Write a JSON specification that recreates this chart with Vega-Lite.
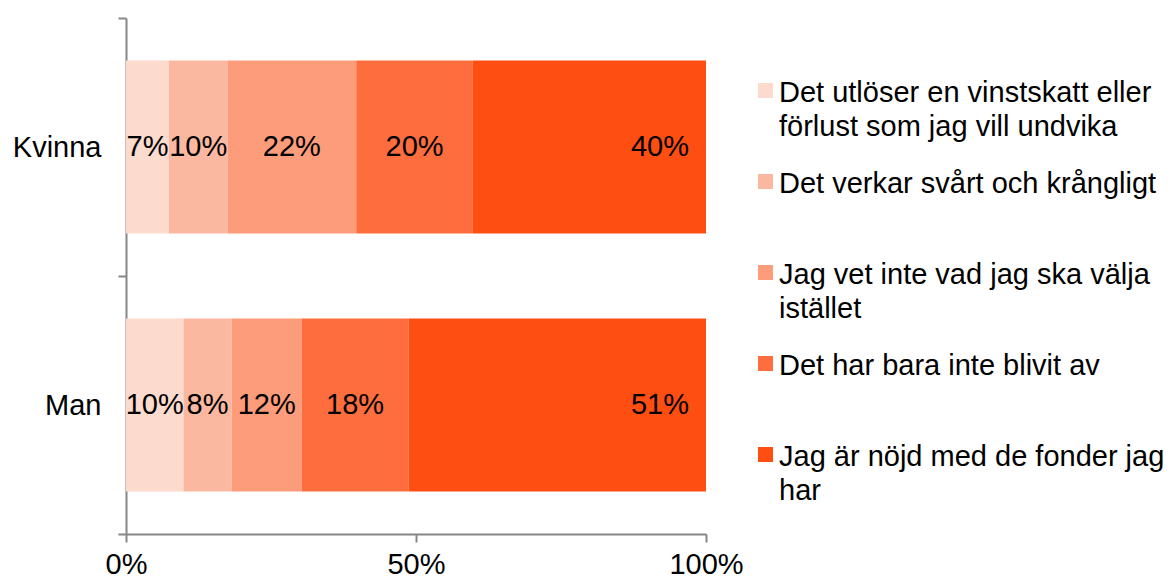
{
  "$schema": "https://vega.github.io/schema/vega-lite/v6.json",
  "width": 580,
  "height": 516,
  "autosize": {"type": "none"},
  "padding": {"left": 126, "top": 18, "right": 466, "bottom": 46},
  "background": "white",
  "config": {
    "font": "Liberation Sans",
    "view": {"stroke": null}
  },
  "data": {
    "values": [
      {"kon": "Kvinna", "ord": 1, "svar": "Det utlöser en vinstskatt eller förlust som jag vill undvika", "v": 0.074},
      {"kon": "Kvinna", "ord": 2, "svar": "Det verkar svårt och krångligt", "v": 0.101},
      {"kon": "Kvinna", "ord": 3, "svar": "Jag vet inte vad jag ska välja istället", "v": 0.222},
      {"kon": "Kvinna", "ord": 4, "svar": "Det har bara inte blivit av", "v": 0.201},
      {"kon": "Kvinna", "ord": 5, "svar": "Jag är nöjd med de fonder jag har", "v": 0.402},
      {"kon": "Man", "ord": 1, "svar": "Det utlöser en vinstskatt eller förlust som jag vill undvika", "v": 0.099},
      {"kon": "Man", "ord": 2, "svar": "Det verkar svårt och krångligt", "v": 0.083},
      {"kon": "Man", "ord": 3, "svar": "Jag vet inte vad jag ska välja istället", "v": 0.121},
      {"kon": "Man", "ord": 4, "svar": "Det har bara inte blivit av", "v": 0.184},
      {"kon": "Man", "ord": 5, "svar": "Jag är nöjd med de fonder jag har", "v": 0.513}
    ]
  },
  "transform": [
    {"stack": "v", "groupby": ["kon"], "sort": [{"field": "ord", "order": "ascending"}], "as": ["x0", "x1"]},
    {"calculate": "(datum.x0 + datum.x1) / 2", "as": "xm"}
  ],
  "encoding": {
    "y": {
      "field": "kon",
      "type": "nominal",
      "sort": ["Kvinna", "Man"],
      "scale": {"paddingInner": 0, "paddingOuter": 0},
      "axis": {
        "title": null,
        "tickBand": "extent",
        "labelFontSize": 29,
        "labelColor": "#000000",
        "labelPadding": 17,
        "tickSize": 8,
        "tickColor": "#868686",
        "tickWidth": 2,
        "domainColor": "#868686",
        "domainWidth": 2
      }
    }
  },
  "layer": [
    {
      "mark": {"type": "bar", "height": {"band": 0.67}},
      "encoding": {
        "x": {
          "field": "x0",
          "type": "quantitative",
          "scale": {"domain": [0, 1], "nice": false},
          "axis": {
            "title": null,
            "values": [0, 0.5, 1],
            "format": ".0%",
            "grid": false,
            "labelFontSize": 29,
            "labelColor": "#000000",
            "labelPadding": 8,
            "labelFlush": false,
            "tickSize": 8,
            "tickColor": "#868686",
            "tickWidth": 2,
            "domainColor": "#868686",
            "domainWidth": 2
          }
        },
        "x2": {"field": "x1"},
        "color": {
          "field": "svar",
          "type": "nominal",
          "scale": {
            "domain": [
              "Det utlöser en vinstskatt eller förlust som jag vill undvika",
              "Det verkar svårt och krångligt",
              "Jag vet inte vad jag ska välja istället",
              "Det har bara inte blivit av",
              "Jag är nöjd med de fonder jag har"
            ],
            "range": ["#fcdacd", "#fbb8a1", "#fc9c7b", "#fd6d3e", "#fe4e12"]
          },
          "legend": {
            "title": null,
            "orient": "none",
            "legendX": 625,
            "legendY": 58,
            "padding": 0,
            "symbolType": "square",
            "symbolSize": 225,
            "symbolStrokeWidth": 0,
            "labelFontSize": 29,
            "labelColor": "#000000",
            "labelOffset": -1,
            "labelLimit": 0,
            "labelBaseline": "top",
            "gridAlign": "all",
            "rowPadding": 25,
            "labelExpr": "datum.label == 'Det utlöser en vinstskatt eller förlust som jag vill undvika' ? ['Det utlöser en vinstskatt eller', 'förlust som jag vill undvika'] : datum.label == 'Jag vet inte vad jag ska välja istället' ? ['Jag vet inte vad jag ska välja', 'istället'] : datum.label == 'Jag är nöjd med de fonder jag har' ? ['Jag är nöjd med de fonder jag', 'har'] : datum.label",
            "encode": {
              "labels": {"update": {"dy": {"value": -12}, "lineHeight": {"value": 34}}}
            }
          }
        }
      }
    },
    {
      "transform": [{"filter": "datum.ord < 5"}],
      "mark": {"type": "text", "fontSize": 29, "color": "#000000", "align": "center", "baseline": "middle"},
      "encoding": {
        "x": {"field": "xm", "type": "quantitative"},
        "text": {"field": "v", "type": "quantitative", "format": ".0%"}
      }
    },
    {
      "transform": [{"filter": "datum.ord == 5"}],
      "mark": {"type": "text", "fontSize": 29, "color": "#000000", "align": "right", "baseline": "middle", "dx": -17},
      "encoding": {
        "x": {"field": "x1", "type": "quantitative"},
        "text": {"field": "v", "type": "quantitative", "format": ".0%"}
      }
    }
  ]
}
